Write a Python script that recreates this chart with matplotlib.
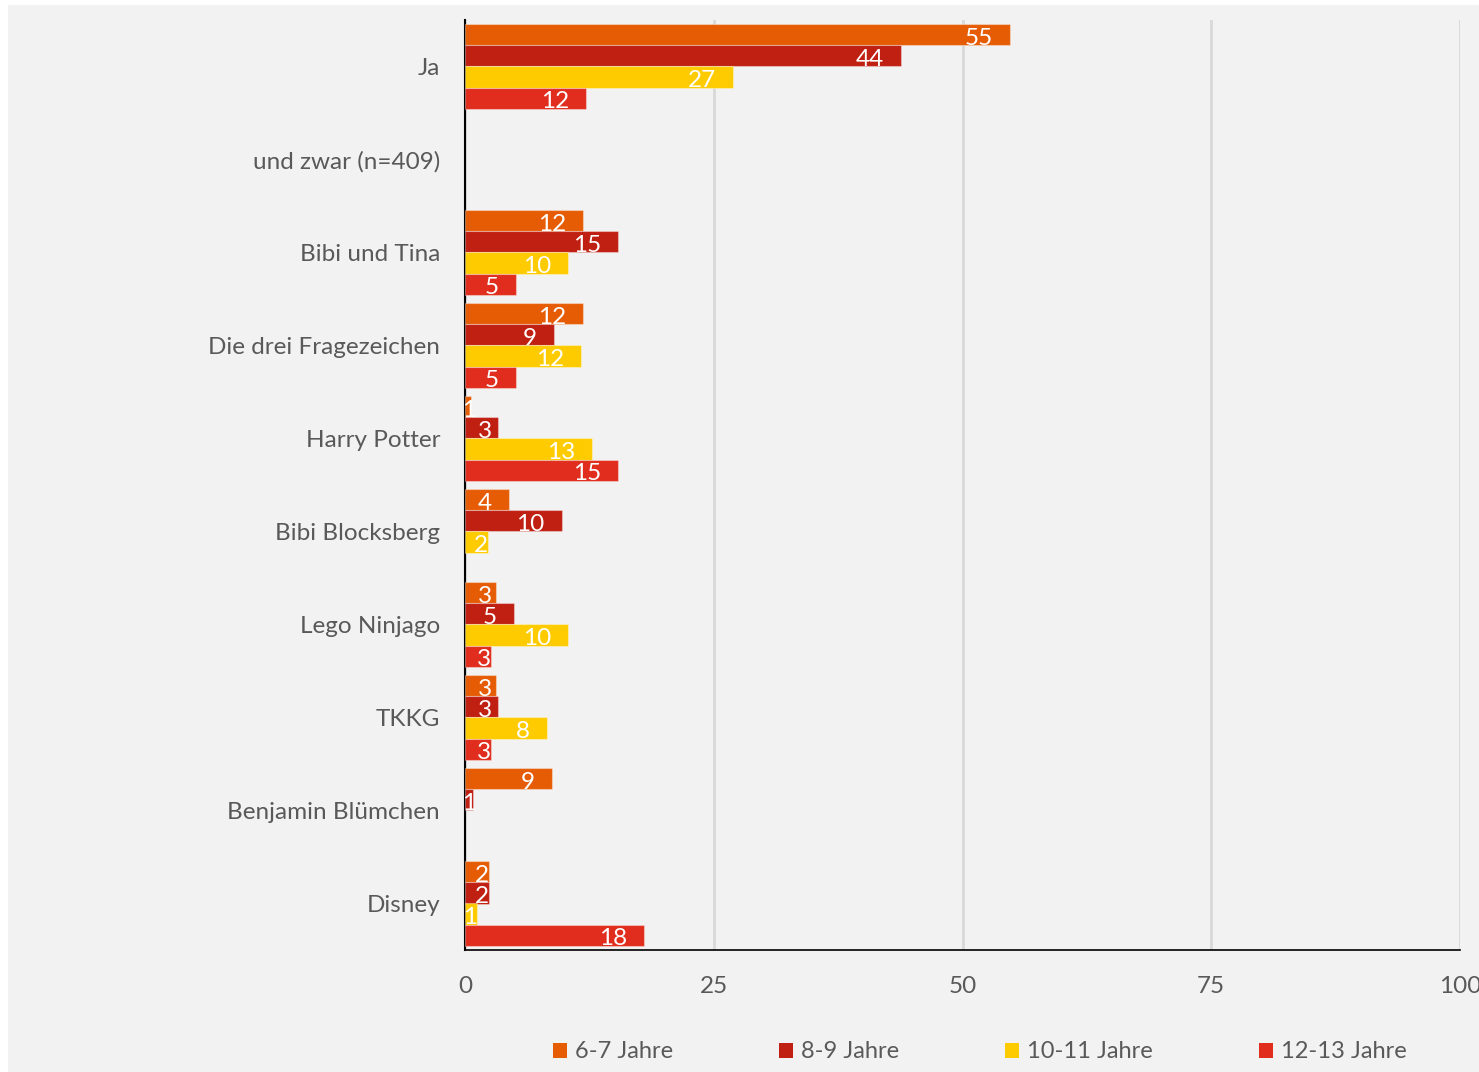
import numpy as np
import matplotlib
matplotlib.use("Agg")
import matplotlib.pyplot as plt
from matplotlib.patches import Rectangle, Patch

plt.rcParams['font.family'] = ['Lato', 'DejaVu Sans']

categories = ["Ja", "und zwar (n=409)", "Bibi und Tina", "Die drei Fragezeichen",
              "Harry Potter", "Bibi Blocksberg", "Lego Ninjago", "TKKG",
              "Benjamin Blümchen", "Disney"]
series_names = ["6-7 Jahre", "8-9 Jahre", "10-11 Jahre", "12-13 Jahre"]
nan = np.nan
s_6_7 = [54.8, nan, 11.9, 11.9, 0.6, 4.4, 3.1, 3.1, 8.7, 2.4]
s_8_9 = [43.8, nan, 15.4, 8.9, 3.3, 9.7, 4.9, 3.3, 0.8, 2.4]
s_10_11 = [26.9, nan, 10.4, 11.7, 12.8, 2.3, 10.4, 8.2, nan, 1.2]
s_12_13 = [12.2, nan, 5.1, 5.1, 15.4, nan, 2.6, 2.6, nan, 18.0]
series = [s_6_7, s_8_9, s_10_11, s_12_13]
colors = ["#E65C05", "#C02012", "#FECB00", "#E02D1D"]
xticks = [0, 25, 50, 75, 100]

W, H = 1479, 1072
FS = 17.5
fig = plt.figure(figsize=(W / 100, H / 100), dpi=100)
fig.patch.set_facecolor("white")
bg = Rectangle((8 / W, 0), 1 - 8 / W, 1 - 5 / H, transform=fig.transFigure,
               facecolor="#F2F2F2", edgecolor="none", zorder=-10)
fig.patches.append(bg)

ax = fig.add_axes([465 / W, 1 - 950 / H, (1460 - 465) / W, (950 - 20) / H])
ax.set_zorder(1)
ax.patch.set_visible(False)

n = len(categories)
y = np.arange(n)
h = 0.226
ppu = (1460 - 465) / 100.0  # pixels per data unit
pad_units = 17 / ppu
min_right = 27 / ppu
min_right_any = 11 / ppu

for i, (vals, col, name) in enumerate(zip(series, colors, series_names)):
    offs = y + (i - 1.5) * h
    v = np.array(vals, dtype=float)
    m = ~np.isnan(v)
    ax.barh(offs[m], v[m], height=h, color=col, edgecolor=(1, 1, 1, 0.35),
            linewidth=0.8, label=name, zorder=3)
    for yy, val in zip(offs[m], v[m]):
        xr = max(val - pad_units, min(val, min_right), min_right_any)
        ax.text(xr, yy + 0.035, f"{val:.0f}", ha="right", va="center", color="white",
                fontsize=FS, zorder=4)

ax.set_xlim(0, 100)
ax.set_ylim(n - 0.5, -0.5)
ax.set_xticks(xticks)
ax.set_xticklabels([str(t) for t in xticks])
ax.set_yticks(y)
ax.set_yticklabels(categories)
ax.tick_params(axis="both", length=0, labelsize=FS, labelcolor="#595959")
ax.tick_params(axis="x", pad=19)
ax.tick_params(axis="y", pad=18)
ax.grid(axis="x", color="#D9D9D9", linewidth=2, zorder=1)
ax.set_axisbelow(True)
for s in ["top", "right"]:
    ax.spines[s].set_visible(False)
ax.spines["left"].set_color("black")
ax.spines["left"].set_linewidth(1.5)
ax.spines["bottom"].set_color("black")
ax.spines["bottom"].set_linewidth(1.2)

handles = [Patch(facecolor=c, edgecolor="none") for c in colors]
LFS = 17
fs_px = LFS * 100 / 72
leg = fig.legend(handles, series_names, loc="center", ncol=4,
                 bbox_to_anchor=(980 / W, 1 - 1052 / H), frameon=False,
                 fontsize=LFS, handlelength=14 / fs_px, handleheight=14 / fs_px,
                 handletextpad=8 / fs_px, columnspacing=106 / fs_px, borderpad=0)
for t in leg.get_texts():
    t.set_color("#595959")

fig.savefig("out.png", dpi=100, facecolor=fig.get_facecolor())
